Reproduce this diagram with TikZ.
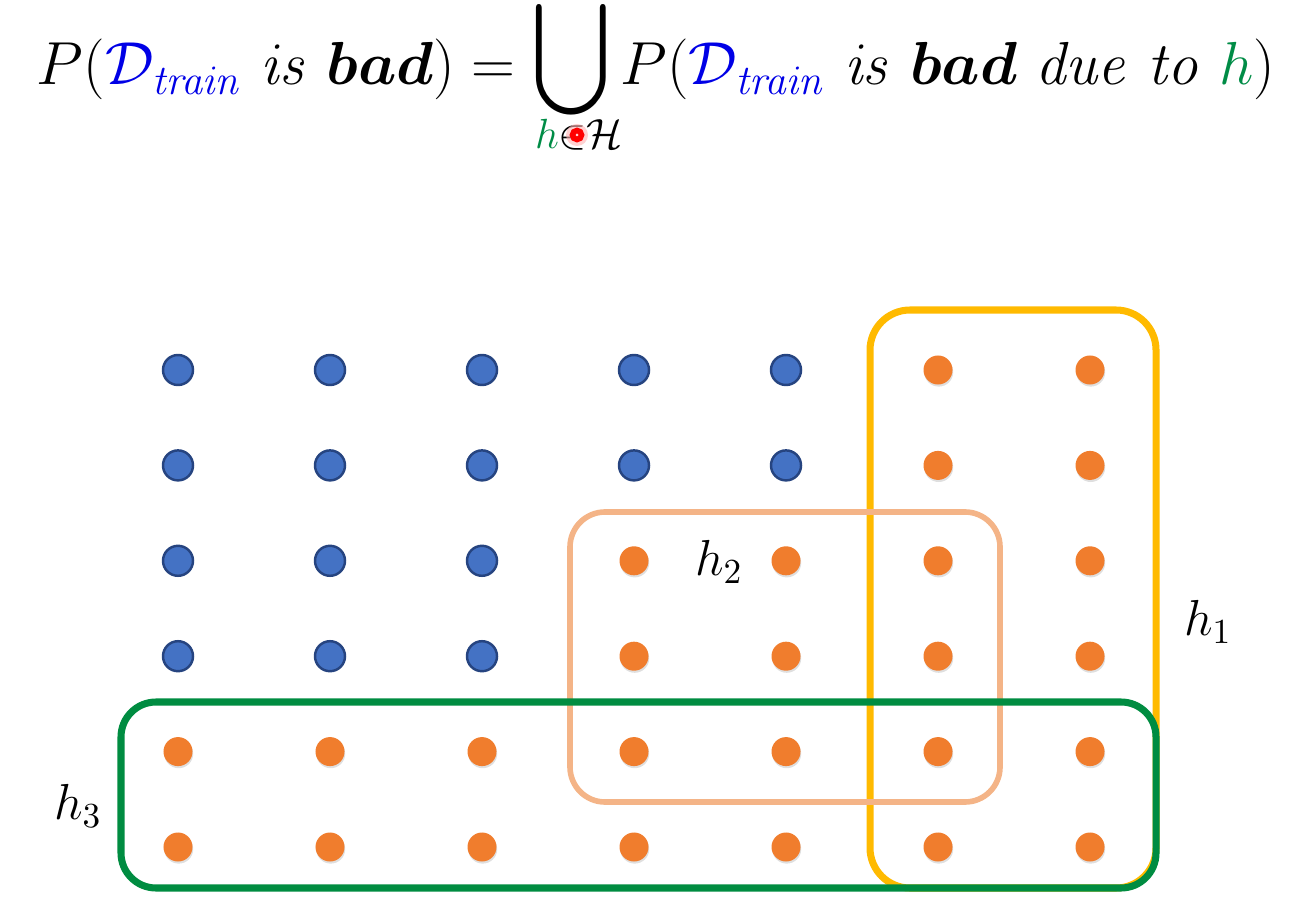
\documentclass[tikz,border=0pt]{standalone}
\usepackage{amsmath}
\usepackage{bm}
\usetikzlibrary{shadows}

\definecolor{dblue}{RGB}{0,0,230}
\definecolor{hgreen}{RGB}{0,140,70}
\definecolor{dotblue}{RGB}{68,114,196}
\definecolor{dotblueedge}{RGB}{38,68,128}
\definecolor{dotorange}{RGB}{240,125,45}
\definecolor{hyellow}{RGB}{255,186,0}
\definecolor{hpeach}{RGB}{244,180,135}
\definecolor{hbgreen}{RGB}{0,140,65}

\begin{document}
\begin{tikzpicture}[x=0.01cm,y=-0.01cm,
  bluedot/.style={circle,inner sep=0pt,minimum size=0.3cm,fill=dotblue,draw=dotblueedge,line width=0.7pt},
  orangedot/.style={circle,inner sep=0pt,minimum size=0.29cm,fill=dotorange,
    drop shadow={opacity=0.25,shadow xshift=0.2pt,shadow yshift=-0.6pt}},
  hlabel/.style={font=\fontsize{14}{16}\selectfont,inner sep=0pt}]
  \useasboundingbox (0,0) rectangle (1313,922);
  % formula
  \node[anchor=base,font=\fontsize{17}{21}\selectfont,inner sep=0pt] (formula) at (656,85)
    {$P(\textcolor{dblue}{\mathcal{D}_{\mathit{train}}}\ \mathit{is}\ \boldsymbol{bad})
      = \mathop{\raisebox{0.1cm}{$\vcenter{\hbox{\scalebox{1.15}[1.3]{$\displaystyle\bigcup$}}}$}}
      P(\textcolor{dblue}{\mathcal{D}_{\mathit{train}}}\ \mathit{is}\ \boldsymbol{bad}\ \mathit{due\ to}\ \textcolor{hgreen}{h})$};
  \node[font=\fontsize{17}{21}\selectfont,inner sep=0pt] (sub) at (579,135)
    {$\scriptstyle\textcolor{hgreen}{h}\in\mathcal{H}$};
  \fill[red!30,opacity=0.6] (577,135) circle (0.11cm);
  \draw[red,line width=1.6pt] (577,135) circle (0.045cm);
  % hypothesis boxes
  \draw[hyellow,line width=2pt,rounded corners=0.4cm] (870,310) rectangle (1156,888);
  \draw[hpeach,line width=1.6pt,rounded corners=0.35cm] (570,512) rectangle (1000,802);
  \draw[hbgreen,line width=2pt,rounded corners=0.35cm] (121,702) rectangle (1156,888);
  \node[hlabel] (h1) at (1208,622) {$h_1$};
  \node[hlabel] (h2) at (719,562) {$h_2$};
  \node[hlabel] (h3) at (78,806) {$h_3$};
  % data sets
  \foreach \r in {1,...,6}
    \foreach \c in {1,...,7}{
      \pgfmathtruncatemacro\isblue{or(and(\r<3,\c<6),and(\r<5,\c<4))}
      \ifnum\isblue=1 \def\kind{bluedot}\else\def\kind{orangedot}\fi
      \node[\kind] (d-\r-\c) at ({178+152*(\c-1)},{370+95.4*(\r-1)}) {};
    }
\end{tikzpicture}
\end{document}
